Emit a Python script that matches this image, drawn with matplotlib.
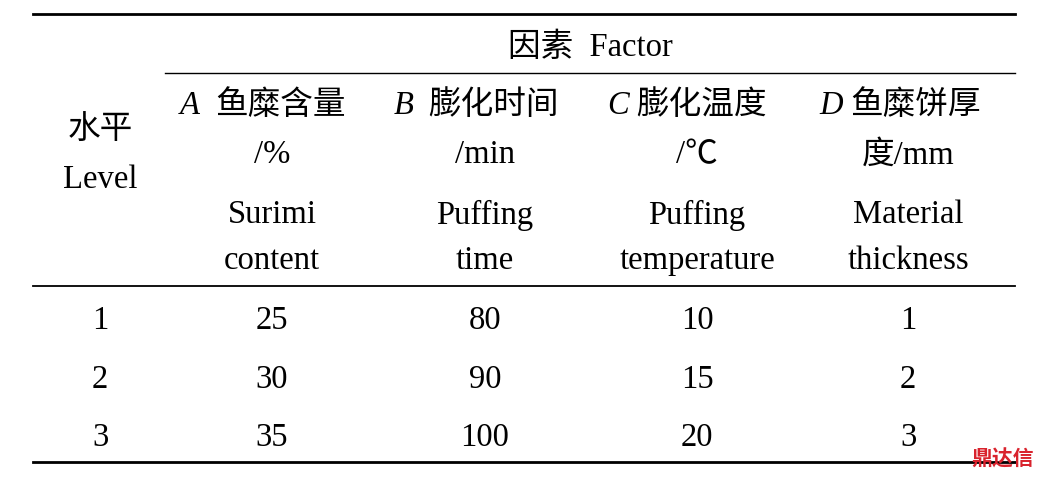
import matplotlib
matplotlib.use("Agg")
import matplotlib.pyplot as plt

levels = ["1", "2", "3"]
factor_a = ["25", "30", "35"]
factor_b = ["80", "90", "100"]
factor_c = ["10", "15", "20"]
factor_d = ["1", "2", "3"]
letters = ["A", "B", "C", "D"]
cn_names = ["鱼糜含量", "膨化时间", "膨化温度", "鱼糜饼厚"]
units = ["/%", "/min", "/℃", "度/mm"]
en1 = ["Surimi", "Puffing", "Puffing", "Material"]
en2 = ["content", "time", "temperature", "thickness"]

W, H = 1060, 481
fig = plt.figure(figsize=(W/100, H/100), dpi=100)
ax = fig.add_axes([0, 0, 1, 1])
ax.set_xlim(0, W); ax.set_ylim(H, 0); ax.axis("off")
fam = ["Liberation Serif", "Noto Sans CJK SC"]
fs = 23.5
def t(x, y, s, ha="center", style="normal", **kw):
    ax.text(x, y + 3, s, ha=ha, va="center", fontsize=fs, family=fam, fontstyle=style, **kw)

ax.plot([33, 1015], [15, 15], color="black", lw=2)
ax.plot([165, 1015], [74, 74], color="black", lw=1)
ax.plot([33, 1015], [287, 287], color="black", lw=1.3)
ax.plot([33, 1015], [463, 463], color="black", lw=2)

t(590, 45, "因素  Factor")
t(100, 128, "水平")
t(100, 177, "Level")
centers = [272, 485, 697, 908]
letter_x = [180, 394, 607, 819]
cn_x = [215, 428, 636, 850]
for i in range(4):
    t(letter_x[i], 103, letters[i], ha="left", style="italic")
    t(cn_x[i], 103, cn_names[i], ha="left")
    t(centers[i], 152, units[i])
    t(centers[i], 212, en1[i])
    t(centers[i], 258, en2[i])
rows_y = [318, 377, 435]
cols = [levels, factor_a, factor_b, factor_c, factor_d]
xs = [100] + centers
for c, col in enumerate(cols):
    for r, v in enumerate(col):
        t(xs[c], rows_y[r], v)
ax.text(1003, 459, "鼎达信", ha="center", va="center", fontsize=15, color="#d9232d",
        family=["Noto Sans CJK SC"], fontweight="bold")
fig.savefig("out.png", dpi=100)
